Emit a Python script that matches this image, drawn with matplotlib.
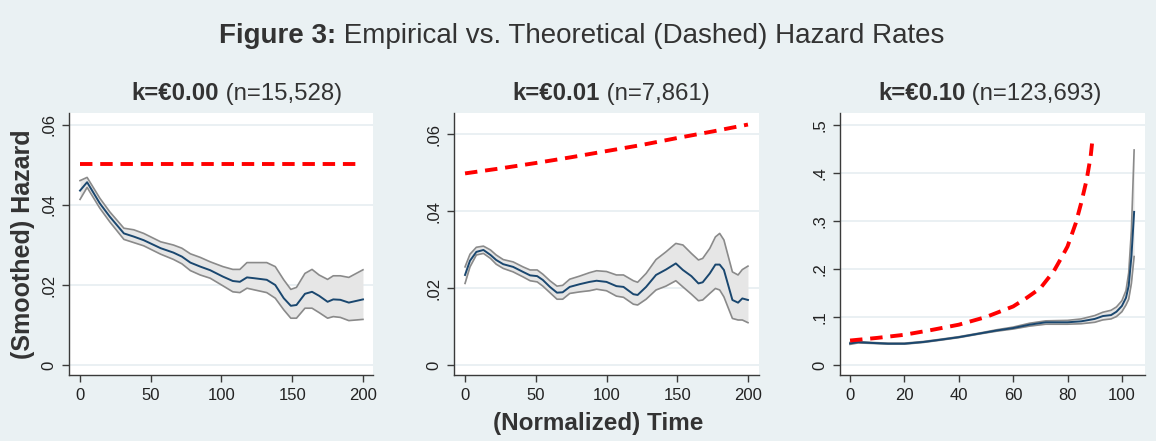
import matplotlib
matplotlib.use("Agg")
import matplotlib.pyplot as plt

plt.rcParams['font.family'] = ['Liberation Sans', 'DejaVu Sans']

# panel 1: k = 0.00
t1 = [0, 5, 14, 21, 31, 38, 45, 57, 66, 72, 78, 85, 92, 101, 108, 113, 118, 123,
      132, 138, 144, 149, 153, 159, 164, 169, 175, 179, 184, 190, 200]
haz1 = [0.0436, 0.0457, 0.0404, 0.0371, 0.0329, 0.0321, 0.0312, 0.0292, 0.0281, 0.0271,
        0.0256, 0.0246, 0.0237, 0.0221, 0.0210, 0.0208, 0.0219, 0.0217, 0.0213, 0.0200,
        0.0167, 0.0148, 0.0150, 0.0178, 0.0183, 0.0173, 0.0158, 0.0164, 0.0163, 0.0156, 0.0164]
up1 = [0.0461, 0.0469, 0.0417, 0.0383, 0.0342, 0.0338, 0.0329, 0.0308, 0.0300, 0.0292,
       0.0278, 0.0269, 0.0258, 0.0246, 0.0239, 0.0239, 0.0256, 0.0256, 0.0256, 0.0246,
       0.0213, 0.0189, 0.0194, 0.0229, 0.0239, 0.0225, 0.0214, 0.0223, 0.0223, 0.0219, 0.0238]
lo1 = [0.0414, 0.0444, 0.0392, 0.0358, 0.0314, 0.0306, 0.0298, 0.0277, 0.0264, 0.0253,
       0.0236, 0.0225, 0.0217, 0.0198, 0.0183, 0.0181, 0.0192, 0.0188, 0.0181, 0.0167,
       0.0138, 0.0117, 0.0117, 0.0142, 0.0142, 0.0131, 0.0117, 0.0121, 0.0119, 0.0111, 0.0114]
tt1 = [0, 200]
theo1 = [0.0503, 0.0503]

# panel 2: k = 0.01
t2 = [0, 3.5, 8, 13, 18, 22, 27, 34, 41, 46, 51, 55, 60, 65, 69, 74, 81, 88, 93, 100,
      107, 112, 119, 122, 128, 135, 142, 149, 154, 160, 165, 168, 173, 177, 180, 183,
      189, 193, 196, 200]
haz2 = [0.0234, 0.0271, 0.0294, 0.0299, 0.0286, 0.0273, 0.0262, 0.0255, 0.0242, 0.0233,
        0.0231, 0.0221, 0.0203, 0.0188, 0.0189, 0.0203, 0.0210, 0.0216, 0.0219, 0.0216,
        0.0205, 0.0203, 0.0184, 0.0182, 0.0203, 0.0234, 0.0248, 0.0264, 0.0247, 0.0231,
        0.0212, 0.0215, 0.0238, 0.0261, 0.0261, 0.0247, 0.0169, 0.0162, 0.0173, 0.0169]
up2 = [0.0255, 0.0288, 0.0306, 0.0309, 0.0299, 0.0286, 0.0274, 0.0268, 0.0255, 0.0247,
       0.0247, 0.0236, 0.0219, 0.0205, 0.0207, 0.0223, 0.0231, 0.0240, 0.0245, 0.0243,
       0.0234, 0.0234, 0.0219, 0.0215, 0.0238, 0.0274, 0.0294, 0.0316, 0.0312, 0.0290,
       0.0273, 0.0277, 0.0303, 0.0333, 0.0342, 0.0325, 0.0242, 0.0234, 0.0248, 0.0257]
lo2 = [0.0212, 0.0255, 0.0286, 0.0290, 0.0277, 0.0262, 0.0251, 0.0242, 0.0229, 0.0219,
       0.0216, 0.0205, 0.0188, 0.0171, 0.0171, 0.0186, 0.0190, 0.0193, 0.0197, 0.0193,
       0.0179, 0.0176, 0.0158, 0.0156, 0.0171, 0.0195, 0.0205, 0.0219, 0.0203, 0.0184,
       0.0167, 0.0169, 0.0186, 0.0199, 0.0195, 0.0177, 0.0121, 0.0117, 0.0117, 0.0110]
tt2 = [0, 25, 50, 75, 100, 125, 150, 175, 200]
theo2 = [0.0498, 0.0511, 0.0525, 0.0540, 0.0556, 0.0572, 0.0590, 0.0607, 0.0625]

# panel 3: k = 0.10
t3 = [0, 3, 8, 14, 20, 27, 33, 40, 48, 54, 60, 66, 72, 80, 85, 90, 93, 96, 98, 100,
      101.5, 102.5, 103.5, 104.5]
haz3 = [0.045, 0.0475, 0.046, 0.0445, 0.0445, 0.048, 0.0525, 0.058, 0.066, 0.072, 0.077,
        0.084, 0.089, 0.089, 0.091, 0.096, 0.102, 0.104, 0.111, 0.123, 0.140, 0.165, 0.226, 0.319]
up3 = [0.047, 0.049, 0.047, 0.0455, 0.0455, 0.049, 0.0535, 0.059, 0.067, 0.0735, 0.079,
       0.087, 0.092, 0.093, 0.096, 0.103, 0.110, 0.114, 0.121, 0.134, 0.155, 0.192, 0.281, 0.448]
lo3 = [0.043, 0.046, 0.045, 0.0435, 0.0435, 0.047, 0.0515, 0.057, 0.065, 0.0705, 0.075,
       0.081, 0.085, 0.085, 0.086, 0.089, 0.094, 0.096, 0.101, 0.111, 0.125, 0.137, 0.170, 0.226]
tt3 = [0, 10, 20, 30, 40, 50, 55, 60, 65, 70, 75, 78, 80, 83, 85, 87, 88.5, 89.3]
theo3 = [0.051, 0.0565, 0.063, 0.073, 0.084, 0.100, 0.111, 0.122, 0.140, 0.160, 0.196,
         0.226, 0.247, 0.295, 0.337, 0.385, 0.434, 0.476]

panel_bold = ['k=€0.00', 'k=€0.01', 'k=€0.10']
panel_n = [' (n=15,528)', ' (n=7,861)', ' (n=123,693)']

BG = '#EAF1F3'
GRID = '#E6EEF1'
NAVY = '#1A476F'
TXT = '#333333'

W, H = 1156, 441
fig = plt.figure(figsize=(W / 100, H / 100), dpi=100, facecolor=BG)

boxes = [[69, 373], [454, 759], [840, 1145]]
top_px, bot_px = 113, 375

panels = [
    (t1, haz1, up1, lo1, tt1, theo1, (-7.8, 207.1), (-0.0025, 0.063),
     [0, 50, 100, 150, 200], [0, 0.02, 0.04, 0.06], ['0', '.02', '.04', '.06']),
    (t2, haz2, up2, lo2, tt2, theo2, (-7.8, 207.8), (-0.0026, 0.0655),
     [0, 50, 100, 150, 200], [0, 0.02, 0.04, 0.06], ['0', '.02', '.04', '.06']),
    (t3, haz3, up3, lo3, tt3, theo3, (-3.7, 108.5), (-0.0208, 0.525),
     [0, 20, 40, 60, 80, 100], [0, 0.1, 0.2, 0.3, 0.4, 0.5], ['0', '.1', '.2', '.3', '.4', '.5']),
]

axes = []
for (l, r), p in zip(boxes, panels):
    t, h, up, lo, tt, th, xl, yl, xt, yt, ytl = p
    ax = fig.add_axes([l / W, (H - bot_px) / H, (r - l) / W, (bot_px - top_px) / H])
    ax.set_facecolor('white')
    ax.fill_between(t, lo, up, color='#E6E6E6', lw=0, zorder=2)
    ax.plot(t, up, color='#8A8A8A', lw=1.2, zorder=3)
    ax.plot(t, lo, color='#8A8A8A', lw=1.2, zorder=3)
    ax.plot(t, h, color=NAVY, lw=1.4, zorder=4)
    ax.plot(tt, th, color='#FF0000', lw=2.8, dashes=(3.2, 2.0), zorder=5)
    ax.set_xlim(*xl)
    ax.set_ylim(*yl)
    ax.set_xticks(xt)
    ax.set_yticks(yt)
    ax.set_yticklabels(ytl, rotation=90, va='center')
    ax.grid(axis='y', color=GRID, lw=1.2, zorder=0)
    ax.set_axisbelow(True)
    for s in ['top', 'right']:
        ax.spines[s].set_visible(False)
    for s in ['left', 'bottom']:
        ax.spines[s].set_color('#3A3A3A')
        ax.spines[s].set_linewidth(1.0)
    ax.tick_params(direction='out', length=5, width=1, color='#3A3A3A',
                   labelsize=12, labelcolor='#222222', pad=4)
    axes.append(ax)

axes[0].set_ylabel('(Smoothed) Hazard', fontsize=18, fontweight='bold', color=TXT, labelpad=5)
axes[1].set_xlabel('(Normalized) Time', fontsize=17.5, fontweight='bold', color=TXT, labelpad=7)
axes[1].xaxis.label.set_x((598 - 454) / 305)


def two_part(xc, yb, bold, regular, size):
    a = fig.text(0, yb, bold, fontsize=size, fontweight='bold', color=TXT, va='baseline')
    b = fig.text(0, yb, regular, fontsize=size, color=TXT, va='baseline')
    fig.canvas.draw()
    rend = fig.canvas.get_renderer()
    wa = a.get_window_extent(rend).width
    wb = b.get_window_extent(rend).width
    x0 = xc - (wa + wb) / 2
    a.set_x(x0 / W)
    b.set_x((x0 + wa) / W)


two_part(582, 1 - 43 / H, 'Figure 3:', ' Empirical vs. Theoretical (Dashed) Hazard Rates', 20)
sub_centres = [237, 611, 990]
for xc, bt, nt in zip(sub_centres, panel_bold, panel_n):
    two_part(xc, 1 - 100 / H, bt, nt, 17.3)

fig.savefig('out.png', dpi=100, facecolor=BG)
